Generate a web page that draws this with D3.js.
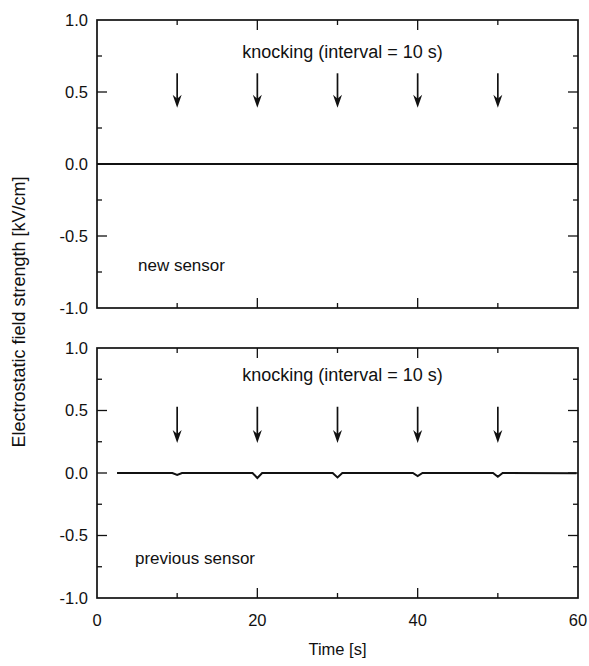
<!DOCTYPE html>
<html>
<head>
<meta charset="utf-8">
<script src="https://cdn.jsdelivr.net/npm/d3@7"></script>
<style>
  body { margin: 0; background: #fff; }
  svg { display: block; font-family: "Liberation Sans", Arial, sans-serif; }
  .tick-label { font-size: 16.5px; fill: #111; }
  .note { font-size: 17px; fill: #111; }
</style>
</head>
<body>
<div id="chart"></div>
<script>
// tick labels
const timeTicks = [0, 20, 40, 60];
const timeMinor = [10, 30, 50];
const fieldTicks = [-1.0, -0.5, 0.0, 0.5, 1.0];
const fieldMinor = [-0.75, -0.25, 0.25, 0.75];

// knocking moments (s)
const knockTimes = [10, 20, 30, 40, 50];

// new sensor: flat line
const newSensorTime = [0, 60];
const newSensorField = [0, 0];

// previous sensor: small dips at every knock
const prevSensorTime  = [2.5, 9.4, 10, 10.6, 19.4, 20, 20.6, 29.4, 30, 30.6, 39.4, 40, 40.6, 49.4, 50, 50.6, 59.8];
const prevSensorField = [0, 0, -0.015, 0, 0, -0.04, 0, 0, -0.035, 0, 0, -0.025, 0, 0, -0.03, 0, -0.002];

const width = 589, height = 666;
const left = 97, right = 578;

const svg = d3.select("#chart").append("svg")
    .attr("width", width)
    .attr("height", height);

const x = d3.scaleLinear().domain([0, 60]).range([left, right]);

// panel layout
const panels = [
  { top: 20, bottom: 308, label: "new sensor", labelY: 271,
    time: newSensorTime, field: newSensorField, arrow: [0.63, 0.39], textY: 58, textSize: 18 },
  { top: 348, bottom: 598, label: "previous sensor", labelY: 564,
    time: prevSensorTime, field: prevSensorField, arrow: [0.53, 0.24], textY: 381, textSize: 18 }
];

panels.forEach((p, i) => {
  const y = d3.scaleLinear().domain([-1, 1]).range([p.bottom, p.top]);
  const g = svg.append("g");

  // frame
  g.append("rect")
      .attr("x", left).attr("y", p.top)
      .attr("width", right - left).attr("height", p.bottom - p.top)
      .attr("fill", "none").attr("stroke", "#111").attr("stroke-width", 1.7);

  // inward ticks on all four sides
  const tk = (vals, len) => {
    vals.forEach(v => {
      g.append("line").attr("x1", left).attr("x2", left + len)
        .attr("y1", y(v)).attr("y2", y(v));
      g.append("line").attr("x1", right).attr("x2", right - len)
        .attr("y1", y(v)).attr("y2", y(v));
    });
  };
  const tkx = (vals, len) => {
    vals.forEach(v => {
      g.append("line").attr("x1", x(v)).attr("x2", x(v))
        .attr("y1", p.bottom).attr("y2", p.bottom - len);
      g.append("line").attr("x1", x(v)).attr("x2", x(v))
        .attr("y1", p.top).attr("y2", p.top + len);
    });
  };
  tk(fieldTicks.slice(1, -1), 10);
  tk(fieldMinor, 5);
  tkx(timeTicks.slice(1, -1), 10);
  tkx(timeMinor, 5);
  g.selectAll("line").attr("stroke", "#111").attr("stroke-width", 1.3);

  // y tick labels
  g.selectAll(".tick-label")
    .data(fieldTicks)
    .join("text")
      .attr("class", "tick-label")
      .attr("x", 88)
      .attr("y", d => y(d))
      .attr("dy", "0.36em")
      .attr("text-anchor", "end")
      .text(d => d3.format(".1f")(d).replace("−", "-"));

  // series line
  const pts = p.time.map((t, k) => [t, p.field[k]]);
  g.append("path")
      .datum(pts)
      .attr("fill", "none")
      .attr("stroke", "#111")
      .attr("stroke-width", 2)
      .attr("d", d3.line().x(d => x(d[0])).y(d => y(d[1])));

  // knocking arrows
  knockTimes.forEach(t => {
    const x0 = x(t), y0 = y(p.arrow[0]), y1 = y(p.arrow[1]);
    g.append("line")
        .attr("x1", x0).attr("x2", x0)
        .attr("y1", y0).attr("y2", y1 - 6)
        .attr("stroke", "#111").attr("stroke-width", 1.7);
    g.append("path")
        .attr("d", `M${x0 - 4.5},${y1 - 13} L${x0},${y1 - 9} L${x0 + 4.5},${y1 - 13} L${x0},${y1} Z`)
        .attr("fill", "#111");
  });

  g.append("text")
      .attr("class", "note")
      .style("font-size", p.textSize + "px")
      .attr("x", x(30) + 5)
      .attr("y", p.textY)
      .attr("text-anchor", "middle")
      .text("knocking (interval = 10 s)");

  g.append("text")
      .attr("class", "note")
      .attr("x", i === 0 ? 138 : 135)
      .attr("y", p.labelY)
      .text(p.label);
});

// x tick labels under the lower panel
svg.selectAll(".xlab")
  .data(timeTicks)
  .join("text")
    .attr("class", "tick-label xlab")
    .attr("x", d => x(d))
    .attr("y", 626)
    .attr("text-anchor", "middle")
    .text(d => d);

svg.append("text")
    .attr("class", "note")
    .style("font-size", "16.5px")
    .attr("x", x(30))
    .attr("y", 655)
    .attr("text-anchor", "middle")
    .text("Time [s]");

svg.append("text")
    .attr("class", "note")
    .style("font-size", "18px")
    .attr("transform", `translate(25,312) rotate(-90)`)
    .attr("text-anchor", "middle")
    .text("Electrostatic field strength [kV/cm]");
</script>
</body>
</html>
